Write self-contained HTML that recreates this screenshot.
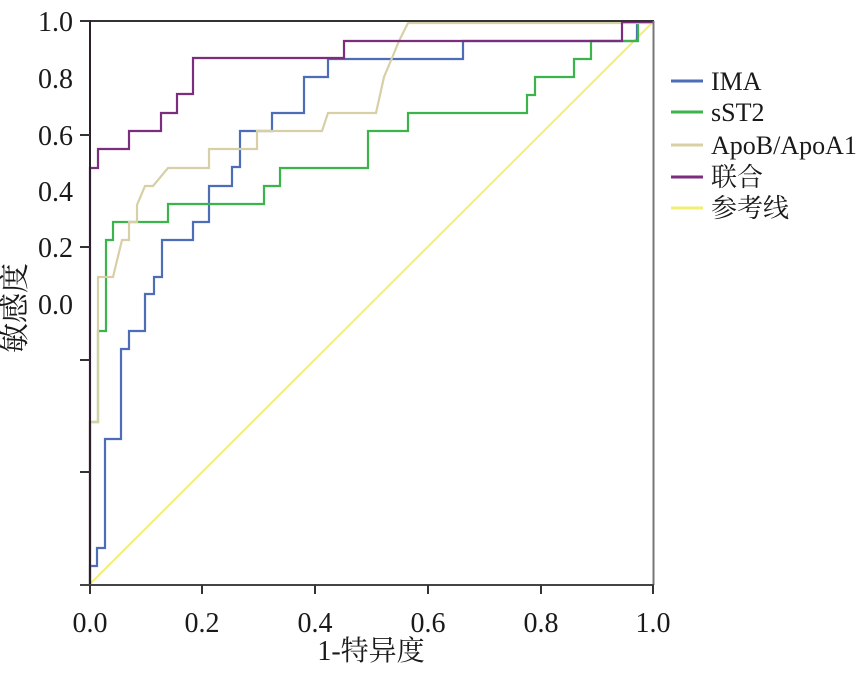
<!DOCTYPE html>
<html><head><meta charset="utf-8"><style>
html,body{margin:0;padding:0;background:#fff;}
svg{display:block;}
text{font-family:"Liberation Serif","Noto Serif CJK SC","Noto Sans CJK SC",serif;fill:#1a1a1a;}
</style></head><body>
<svg width="865" height="674" viewBox="0 0 865 674" xmlns="http://www.w3.org/2000/svg">
<rect width="865" height="674" fill="#fff"/>
<!-- reference line -->
<line x1="90" y1="584" x2="654" y2="21" stroke="#f3ee74" stroke-width="2"/>
<!-- IMA -->
<polyline fill="none" stroke="#4d6db6" stroke-width="2.2" points="90,584 90,566 97,566 97,548 105,548 105,439 121,439 121,349 129,349 129,331 145,331 145,294 154,294 154,277 162,277 162,240 193,240 193,222 209,222 209,186 232,186 232,167 240,167 240,131 272,131 272,113 304,113 304,77 328,77 328,59 463,59 463,41 637,41 637,22 654,22"/>
<!-- sST2 -->
<polyline fill="none" stroke="#3bb44c" stroke-width="2.2" points="90,584 90,422 98,422 98,331 106,331 106,240 113,240 113,222 168,222 168,204 264,204 264,186 280,186 280,168 368,168 368,131 408,131 408,113 527,113 527,95 535,95 535,77 574,77 574,59 591,59 591,41 638,41 638,22 654,22"/>
<!-- ApoB/ApoA1 -->
<polyline fill="none" stroke="#d7d0a6" stroke-width="2.2" points="90,584 90,422 98,422 98,277 113,277 122,240 129,240 129,222 137,222 137,205 145,186 153,186 168,168 209,168 209,149 257,149 257,131 322,131 328,113 376,113 384,77 392,58 399,41 408,23 654,23"/>
<!-- combined -->
<polyline fill="none" stroke="#7b2d7e" stroke-width="2.2" points="90,584 90,168 98,168 98,149 129,149 129,131 161,131 161,113 177,113 177,94 193,94 193,58 344,58 344,41 622,41 622,22 654,22"/>
<!-- axes -->
<line x1="90" y1="21" x2="654" y2="21" stroke="#333" stroke-width="2"/>
<line x1="653.5" y1="21" x2="653.5" y2="585" stroke="#777" stroke-width="2"/>
<line x1="90" y1="20" x2="90" y2="585" stroke="#2a1f2a" stroke-width="2"/>
<line x1="80" y1="585" x2="654" y2="585" stroke="#444" stroke-width="2"/>
<!-- ticks -->
<g stroke="#333" stroke-width="2">
<line x1="80" y1="21" x2="90" y2="21"/>
<line x1="80" y1="135" x2="90" y2="135"/>
<line x1="80" y1="247" x2="90" y2="247"/>
<line x1="80" y1="360" x2="90" y2="360"/>
<line x1="80" y1="472" x2="90" y2="472"/>
<line x1="90" y1="585" x2="90" y2="594"/>
<line x1="202" y1="585" x2="202" y2="594"/>
<line x1="315" y1="585" x2="315" y2="594"/>
<line x1="428" y1="585" x2="428" y2="594"/>
<line x1="541" y1="585" x2="541" y2="594"/>
<line x1="653" y1="585" x2="653" y2="594"/>
</g>
<!-- y tick labels -->
<g font-size="28" text-anchor="end">
<text x="73" y="31">1.0</text>
<text x="73" y="88">0.8</text>
<text x="73" y="145">0.6</text>
<text x="73" y="201">0.4</text>
<text x="73" y="257">0.2</text>
<text x="73" y="314">0.0</text>
</g>
<!-- x tick labels -->
<g font-size="28" text-anchor="middle">
<text x="90" y="632">0.0</text>
<text x="202" y="632">0.2</text>
<text x="315" y="632">0.4</text>
<text x="428" y="632">0.6</text>
<text x="541" y="632">0.8</text>
<text x="653" y="632">1.0</text>
</g>
<text x="371" y="660" font-size="28" text-anchor="middle">1-特异度</text>
<text transform="translate(25,308) rotate(-90)" font-size="30" text-anchor="middle">敏感度</text>
<!-- legend -->
<g stroke-width="3">
<line x1="671" y1="81" x2="703" y2="81" stroke="#4d6db6"/>
<line x1="671" y1="112" x2="703" y2="112" stroke="#3bb44c"/>
<line x1="671" y1="145" x2="703" y2="145" stroke="#d7d0a6"/>
<line x1="671" y1="177" x2="703" y2="177" stroke="#7b2d7e"/>
<line x1="671" y1="208" x2="703" y2="208" stroke="#f3ee74"/>
</g>
<g font-size="26">
<text x="711" y="90">IMA</text>
<text x="711" y="121">sST2</text>
<text x="711" y="154">ApoB/ApoA1</text>
<text x="711" y="186">联合</text>
<text x="711" y="217">参考线</text>
</g>
</svg>
</body></html>
